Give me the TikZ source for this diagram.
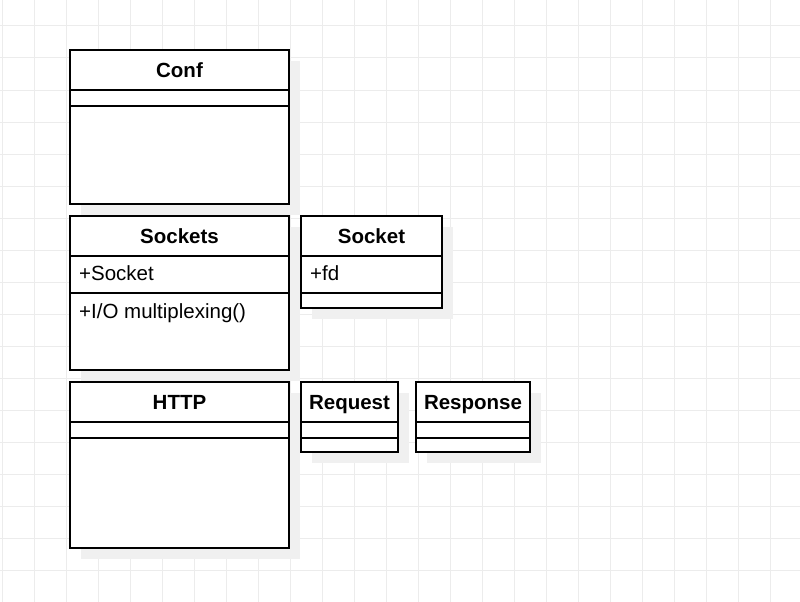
\documentclass[tikz,border=0pt]{standalone}
\usepackage{fontspec}
\setmainfont{Liberation Sans}
\usepackage{xcolor}
\usetikzlibrary{positioning, calc, backgrounds}

\definecolor{gridgray}{RGB}{236,236,236}
\definecolor{shadowgray}{RGB}{240,240,240}

\tikzset{
  part/.style={draw, line width=2pt, fill=white, inner sep=0pt, outer sep=0pt,
    anchor=north west, minimum width=#1},
  head/.style={part=#1, minimum height=40pt, font=\bfseries,
    text height=14.7pt, text depth=0pt},
  member/.style={anchor=base west, inner sep=0pt},
  gridline/.style={gridgray, line width=1pt},
  shade/.style={fill=shadowgray}
}

\begin{document}
\begin{tikzpicture}[x=1pt, y=-1pt]
      \fontsize{20.5}{24}\selectfont
      \useasboundingbox (0,0) rectangle (800,602);

      % Conf
      \node[head=219] (conf) at (70,50) {Conf};
      \node[part=219, minimum height=16pt] (confa) at (conf.south west) {};
      \node[part=219, minimum height=98pt] (confm) at (confa.south west) {};

      % Sockets
      \node[head=219] (sockets) at (70,216) {Sockets};
      \node[part=219, minimum height=37pt] (socketsa) at (sockets.south west) {};
      \node[part=219, minimum height=77pt] (socketsm) at (socketsa.south west) {};
      \node[member] (sockattr) at (79,280) {+Socket};
      \node[member] (sockmeth) at (79,318) {+I/O multiplexing()};

      % Socket
      \node[head=141] (socket) at (301,216) {Socket};
      \node[part=141, minimum height=37pt] (socketa) at (socket.south west) {};
      \node[part=141, minimum height=15pt] (socketm) at (socketa.south west) {};
      \node[member] (fdattr) at (310,280) {+fd};

      % HTTP
      \node[head=219] (http) at (70,382) {HTTP};
      \node[part=219, minimum height=16pt] (httpa) at (http.south west) {};
      \node[part=219, minimum height=110pt] (httpm) at (httpa.south west) {};

      % Request, Response
      \node[head=97] (request) at (301,382) {Request};
      \node[part=97, minimum height=16pt] (requesta) at (request.south west) {};
      \node[part=97, minimum height=14pt] (requestm) at (requesta.south west) {};

      \node[head=114] (response) at (416,382) {Response};
      \node[part=114, minimum height=16pt] (responsea) at (response.south west) {};
      \node[part=114, minimum height=14pt] (responsem) at (responsea.south west) {};

      \begin{scope}[on background layer]
        \fill[white] (0,0) rectangle (800,602);
        \foreach \gx in {2,34,...,770}
          \draw[gridline] (\gx,0) -- (\gx,602);
        \foreach \gy in {26,58,...,570}
          \draw[gridline] (0,\gy) -- (800,\gy);
        % shadows
        \foreach \top/\bot in {conf/confm, sockets/socketsm, socket/socketm,
                               http/httpm, request/requestm, response/responsem}
          \fill[shade] ($(\top.north west)+(11,11)$) rectangle ($(\bot.south east)+(11,11)$);
      \end{scope}

\end{tikzpicture}
\end{document}
